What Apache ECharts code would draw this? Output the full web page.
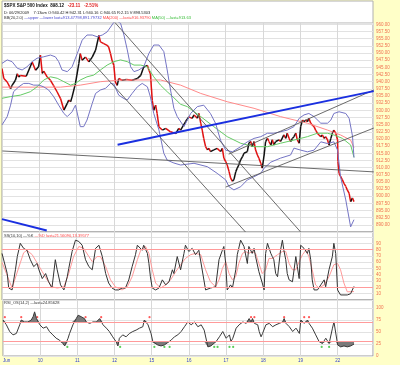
<!DOCTYPE html>
<html><head><meta charset="utf-8">
<script src="https://cdn.jsdelivr.net/npm/echarts@6/dist/echarts.min.js"></script>
<style>html,body{margin:0;padding:0;background:#ffffc8;}#c{width:400px;height:365px;}</style>
</head><body><div id="c"></div>
<script>
const dayLabels = ['Jun','10','11','12','15','16','17','18','19','22'];

const priceT = [0.00,0.05,0.14,0.23,0.27,0.36,0.41,0.45,0.49,0.65,0.81,0.90,0.98,1.03,1.08,1.12,1.21,1.30,1.38,1.48,1.57,1.66,1.75,1.79,1.84,1.88,1.97,2.06,2.10,2.15,2.24,2.33,2.42,2.51,2.60,2.64,2.73,2.82,2.86,2.91,2.95,3.00,3.04,3.09,3.13,3.22,3.34,3.49,3.63,3.72,3.80,3.90,3.94,3.98,4.03,4.07,4.12,4.16,4.21,4.30,4.39,4.52,4.66,4.74,4.79,4.92,5.01,5.10,5.15,5.24,5.28,5.33,5.37,5.41,5.46,5.51,5.55,5.59,5.68,5.77,5.86,5.91,5.95,6.00,6.04,6.09,6.13,6.18,6.22,6.27,6.31,6.35,6.40,6.45,6.49,6.58,6.62,6.67,6.71,6.76,6.80,6.85,6.89,6.94,6.98,7.03,7.07,7.12,7.16,7.21,7.25,7.29,7.34,7.43,7.47,7.56,7.61,7.65,7.70,7.74,7.79,7.83,7.88,7.92,7.97,8.01,8.06,8.10,8.15,8.19,8.23,8.28,8.32,8.37,8.41,8.46,8.50,8.55,8.59,8.64,8.68,8.73,8.77,8.82,8.86,8.90,8.95,9.00,9.01,9.04,9.08,9.13,9.17,9.22,9.26,9.31,9.35,9.40,9.44];
const priceC = [944.6,941.1,939.9,937.6,938.7,940.5,942.8,941.6,942.2,941.9,946.9,944.0,945.2,949.3,942.9,943.7,941.7,940.5,938.7,936.4,934.1,930.1,932.4,933.6,933.0,934.7,939.4,946.3,949.8,947.5,948.6,946.9,948.6,951.0,956.2,953.9,953.3,952.7,952.1,949.8,947.5,945.7,939.9,938.7,941.1,940.5,940.8,940.5,941.1,942.2,945.1,945.7,944.0,942.8,933.5,930.0,931.8,928.9,924.2,923.1,923.7,922.5,921.9,923.7,923.1,926.0,927.7,927.2,928.4,927.2,928.9,925.5,923.1,920.2,917.3,916.2,916.7,915.6,916.2,916.7,915.6,916.7,913.3,912.1,910.9,908.6,906.4,905.2,905.8,908.6,909.8,910.9,912.7,913.8,915.0,915.6,918.5,919.1,917.3,919.1,916.2,914.4,913.3,911.5,909.8,914.4,919.1,920.2,919.1,917.9,919.7,917.9,919.1,919.7,919.1,921.4,920.2,922.0,920.2,919.1,920.2,920.8,922.0,919.7,918.5,924.3,926.6,926.0,926.6,926.0,927.2,925.5,924.9,924.3,923.1,922.0,921.4,920.8,921.4,920.2,920.8,919.7,917.9,920.2,922.0,923.1,922.0,919.7,912.1,908.0,906.9,905.7,904.5,903.4,902.2,901.0,898.1,899.4,898.12];

const bbUpT = [0.00,0.14,0.27,0.41,0.54,0.67,0.81,0.94,1.12,1.30,1.43,1.52,1.61,1.75,1.88,2.02,2.15,2.28,2.42,2.55,2.69,2.82,2.95,3.04,3.18,3.27,3.36,3.45,3.54,3.67,3.80,3.94,4.07,4.21,4.34,4.43,4.52,4.61,4.70,4.88,5.06,5.24,5.41,5.59,5.73,5.86,6.00,6.18,6.40,6.58,6.76,6.94,7.12,7.29,7.47,7.65,7.83,7.97,8.10,8.23,8.37,8.55,8.73,8.82,8.90,9.04,9.22,9.31,9.40,9.44];
const bbUp = [946.4,947.6,947.0,944.7,944.1,945.2,947.0,948.2,948.7,949.3,948.7,947.0,944.1,943.5,945.2,949.9,954.5,956.3,956.3,955.7,956.3,957.4,959.8,961.5,960.4,956.3,951.1,945.2,943.5,944.1,945.2,949.9,952.8,952.8,950.5,944.1,937.1,930.7,927.8,924.3,928.9,931.3,931.8,928.9,925.4,919.6,916.1,915.5,917.3,919.0,920.2,920.8,922.0,922.0,922.5,923.1,924.3,927.2,928.4,928.9,927.8,925.5,925.5,926.6,928.9,929.5,928.9,927.2,921.0,913.5];

const bbLoT = [0.00,0.14,0.23,0.31,0.45,0.58,0.72,0.85,0.99,1.12,1.25,1.39,1.52,1.66,1.75,1.88,1.97,2.10,2.19,2.28,2.42,2.51,2.64,2.78,2.91,3.00,3.13,3.27,3.36,3.49,3.63,3.76,3.90,3.98,4.07,4.21,4.34,4.43,4.61,4.79,5.15,5.51,5.77,6.00,6.09,6.22,6.40,6.58,6.76,6.94,7.03,7.21,7.47,7.74,7.83,8.01,8.19,8.37,8.55,8.73,8.90,9.00,9.08,9.22,9.35,9.44];
const bbLo = [924.9,927.8,931.8,936.5,938.2,939.4,939.4,938.8,938.8,938.2,937.1,934.7,931.8,928.9,927.8,929.5,931.8,924.3,924.3,926.6,932.4,935.9,937.1,937.7,939.4,939.2,935.3,934.1,933.6,935.9,938.2,939.4,938.2,934.7,928.9,923.1,915.0,912.6,911.6,910.9,911.5,910.3,908.0,905.7,903.3,902.2,903.3,905.7,906.8,908.0,909.8,911.9,913.3,914.4,916.8,916.1,915.5,916.1,919.0,918.4,919.0,916.1,906.8,898.7,889.3,891.8];

const ma50T = [0.00,0.23,0.49,0.76,0.94,1.12,1.30,1.48,1.66,1.84,1.97,2.10,2.28,2.46,2.64,2.82,3.00,3.18,3.36,3.54,3.72,3.90,4.07,4.25,4.43,4.61,4.79,4.97,5.33,5.68,6.04,6.40,6.76,7.12,7.47,7.83,8.19,8.46,8.73,8.90,9.13,9.35,9.44];
const ma50 = [934.2,934.8,935.3,936.5,938.2,940.6,941.7,941.2,940.0,938.8,939.4,940.6,941.7,942.3,944.1,945.8,947.0,947.6,947.0,945.8,945.8,945.2,941.7,938.8,936.5,934.4,932.1,931.3,927.8,924.3,920.8,918.5,917.3,917.3,918.5,919.6,920.8,922.0,922.0,921.4,920.2,917.9,913.6];

const ma200T = [0.00,1.57,2.10,2.64,3.18,4.25,4.79,5.33,6.04,6.76,7.47,8.19,8.73,9.08,9.35,9.44];
const ma200 = [938.1,938.1,938.8,940.0,940.6,940.6,938.8,935.9,933.0,930.7,927.8,925.5,923.1,921.4,919.6,916.9];

// trend lines: [t1, price1, t2, price2]
const grayTrends = [
  [3.02, 960.8, 8.01, 887.5],
  [2.32, 948.3, 6.53, 887.5],
  [6.08, 914.7, 9.97, 937.1],
  [6.00, 903.2, 9.97, 923.8],
  [0.01, 915.8, 9.97, 908.5]
];
const blueTrends = [
  [3.10, 918.0, 9.97, 936.7],
  [0.00, 892.0, 1.20, 888.0]
];

const stochKT = [0.00,0.05,0.14,0.18,0.27,0.36,0.41,0.49,0.58,0.67,0.76,0.85,0.94,0.99,1.08,1.17,1.25,1.34,1.43,1.48,1.57,1.66,1.75,1.79,1.88,1.97,2.06,2.15,2.24,2.33,2.42,2.51,2.60,2.64,2.69,2.78,2.86,2.95,3.04,3.13,3.22,3.31,3.40,3.49,3.58,3.63,3.67,3.76,3.80,3.90,3.94,3.98,4.03,4.12,4.21,4.30,4.39,4.48,4.57,4.61,4.70,4.79,4.88,4.92,5.01,5.10,5.19,5.28,5.46,5.59,5.73,5.82,5.91,5.95,6.00,6.04,6.13,6.18,6.27,6.31,6.40,6.49,6.58,6.62,6.67,6.71,6.76,6.80,6.89,6.98,7.03,7.07,7.12,7.21,7.25,7.29,7.34,7.39,7.47,7.52,7.56,7.61,7.65,7.70,7.79,7.88,7.92,7.97,8.01,8.06,8.10,8.19,8.23,8.28,8.32,8.37,8.46,8.55,8.64,8.68,8.77,8.86,8.90,8.95,9.00,9.08,9.26,9.35,9.44];
const stochK = [74,72,42,19,16,48,69,90,82,79,64,53,58,48,34,42,29,19,64,48,24,16,37,50,77,95,93,87,64,53,48,82,87,79,69,42,27,19,16,16,19,19,32,53,72,87,90,79,87,74,58,37,19,16,19,32,24,29,48,42,69,48,74,87,77,82,72,79,16,19,21,64,79,85,58,16,24,19,48,72,95,85,58,85,87,74,82,69,45,27,16,74,90,74,69,64,42,37,79,95,79,64,42,32,29,69,53,34,87,87,82,74,82,64,32,16,16,24,32,21,48,69,90,74,16,8,8,10,21.6];

const stochDT = [0.00,0.27,0.49,0.58,0.67,0.81,0.94,1.08,1.21,1.34,1.48,1.66,1.79,1.92,2.06,2.19,2.33,2.42,2.55,2.64,2.78,2.91,3.04,3.22,3.36,3.49,3.63,3.72,3.85,3.94,4.03,4.12,4.25,4.39,4.52,4.66,4.79,4.92,5.06,5.19,5.33,5.46,5.59,5.73,5.82,5.91,6.00,6.09,6.18,6.27,6.35,6.45,6.54,6.62,6.71,6.80,6.89,6.98,7.07,7.16,7.25,7.39,7.52,7.61,7.70,7.79,7.88,7.97,8.06,8.15,8.23,8.32,8.41,8.50,8.64,8.77,8.90,9.00,9.08,9.17,9.26,9.44];
const stochD = [60,19,59,75,79,72,59,45,32,21,19,21,42,69,85,82,69,61,69,69,53,32,21,16,21,37,64,79,85,74,48,27,19,24,32,45,56,66,72,74,72,48,29,21,32,50,61,42,32,37,58,74,77,74,77,74,58,42,48,66,66,72,77,77,58,48,48,61,72,79,69,48,24,19,24,37,56,58,48,27,13,13.4];

const rsiT = [0.00,0.09,0.18,0.27,0.36,0.45,0.49,0.58,0.67,0.76,0.81,0.85,0.90,0.94,0.99,1.08,1.17,1.25,1.34,1.43,1.52,1.61,1.66,1.75,1.79,1.84,1.88,1.97,2.02,2.10,2.19,2.24,2.33,2.42,2.51,2.60,2.69,2.78,2.86,2.95,3.04,3.09,3.13,3.22,3.31,3.40,3.49,3.58,3.67,3.76,3.80,3.85,3.90,3.98,4.03,4.07,4.16,4.25,4.34,4.43,4.52,4.61,4.70,4.79,4.88,4.97,5.06,5.15,5.24,5.33,5.41,5.51,5.59,5.73,5.82,5.91,6.00,6.09,6.13,6.18,6.27,6.35,6.45,6.54,6.62,6.67,6.71,6.76,6.85,6.89,6.94,6.98,7.07,7.16,7.25,7.34,7.43,7.52,7.56,7.61,7.70,7.79,7.88,7.97,8.01,8.06,8.10,8.19,8.23,8.32,8.41,8.50,8.59,8.68,8.77,8.86,8.90,8.95,9.00,9.08,9.17,9.26,9.35,9.44];
const rsi = [75,65,51,44,47,65,75,71,71,75,82,92,78,82,65,58,61,51,44,37,33,26,21,37,47,44,65,78,85,82,78,71,68,71,71,78,65,58,51,40,30,21,37,44,40,47,51,54,58,61,75,78,65,47,30,26,23,21,23,28,33,40,44,51,61,71,65,71,61,65,54,19,21,30,40,51,37,44,30,37,58,65,71,68,78,71,78,68,65,51,40,47,65,68,61,65,68,71,78,68,61,51,58,47,75,78,68,75,68,58,44,30,26,37,26,58,71,68,23,19,21,19,21,24.9];

const rsiHighT = [0.05,0.49,0.92,2.22,2.64,3.94,6.67,6.76,7.56,8.10,8.23];
const rsiLowT = [1.73,3.15,4.07,4.34,4.48,5.68,5.77,6.09,6.19,8.57,8.77];

const pair = (ts, vs) => ts.map((t, i) => [t, vs[i]]);
const FONT = 'Liberation Sans';
const grid = (top, height) => ({left: 2, right: 27, top: top, height: height, show: true, backgroundColor: '#ffffff', borderColor: '#9a9a9a', borderWidth: 1});
const xAx = (gi, showLabels) => ({
  type: 'value', gridIndex: gi, min: 0, max: 9.95, interval: 1,
  axisLine: {show: false}, axisTick: {show: false},
  splitLine: {show: true, lineStyle: {color: '#d8d8d8', width: 1}},
  axisLabel: {show: showLabels, fontSize: 4.5, fontFamily: FONT, color: '#3344cc', margin: 2, alignMinLabel: 'left',
    formatter: v => (Math.abs(v - Math.round(v)) < 1e-6 && dayLabels[Math.round(v)] !== undefined) ? dayLabels[Math.round(v)] : ''}
});
const yAx = (gi, min, max, interval, fmt) => ({
  type: 'value', gridIndex: gi, position: 'right', min: min, max: max, interval: interval,
  axisLine: {show: false}, axisTick: {show: false},
  splitLine: {show: true, lineStyle: {color: '#e2e2e2', width: 1}},
  axisLabel: {fontSize: 4.5, fontFamily: FONT, color: '#f07050', margin: 3, formatter: fmt}
});

const lineS = (name, data, color, width, xi, yi, extra) => Object.assign({
  type: 'line', name: name, data: data, xAxisIndex: xi, yAxisIndex: yi,
  showSymbol: false, symbol: 'none', smooth: false, silent: true, animation: false,
  lineStyle: {color: color, width: width}
}, extra || {});

const series = [];
series.push(lineS('MA200', pair(ma200T, ma200), '#ff8a8a', 1, 0, 0));
series.push(lineS('MA50', pair(ma50T, ma50), '#66cc66', 1, 0, 0));
series.push(lineS('BBup', pair(bbUpT, bbUp), '#7474c4', 1, 0, 0));
series.push(lineS('BBlo', pair(bbLoT, bbLo), '#7474c4', 1, 0, 0));
grayTrends.forEach((l, i) => series.push(lineS('gt' + i, [[l[0], l[1]], [l[2], l[3]]], '#5a5a5a', 0.9, 0, 0)));
blueTrends.forEach((l, i) => series.push(lineS('bt' + i, [[l[0], l[1]], [l[2], l[3]]], '#1a2fe0', 2, 0, 0)));
series.push({
  type: 'custom', name: 'price', xAxisIndex: 0, yAxisIndex: 0, clip: true, silent: true, animation: false,
  data: priceT.map((t, i) => [t, priceC[i], i > 0 ? priceT[i - 1] : t, i > 0 ? priceC[i - 1] : priceC[i]]),
  renderItem: (params, api) => {
    const a = api.coord([api.value(2), api.value(3)]);
    const b = api.coord([api.value(0), api.value(1)]);
    const up = api.value(1) >= api.value(3);
    return {type: 'line', shape: {x1: a[0], y1: a[1], x2: b[0], y2: b[1]}, style: {stroke: up ? '#111111' : '#e01010', lineWidth: 1.5}};
  },
  markLine: {
    silent: true, symbol: 'none', animation: false,
    lineStyle: {opacity: 0},
    label: {position: 'end', formatter: '898.12', backgroundColor: '#000', color: '#fff', fontSize: 4.8, fontFamily: FONT, fontWeight: 'bold', padding: [1, 2, 0, 2], distance: 1},
    data: [{yAxis: priceC[priceC.length - 1]}]
  }
});
series.push(lineS('D', pair(stochDT, stochD), '#ff9a9a', 1, 1, 1, {
  markLine: {silent: true, symbol: 'none', animation: false, label: {show: false},
    lineStyle: {color: '#ff9a9a', width: 1, type: 'solid'}, data: [{yAxis: 80}, {yAxis: 20}]}
}));
series.push(lineS('K', pair(stochKT, stochK), '#333333', 1, 1, 1));
series.push(lineS('rsiHi', rsiT.map((t, i) => [t, Math.max(rsi[i], 70)]), '#888', 0, 2, 2, {areaStyle: {origin: 70, color: '#7a7a7a', opacity: 1}, lineStyle: {width: 0}}));
series.push(lineS('rsiLo', rsiT.map((t, i) => [t, Math.min(rsi[i], 30)]), '#888', 0, 2, 2, {areaStyle: {origin: 30, color: '#7a7a7a', opacity: 1}, lineStyle: {width: 0}}));
series.push(lineS('rsi', pair(rsiT, rsi), '#3a3a3a', 1, 2, 2, {
  markLine: {silent: true, symbol: 'none', animation: false, label: {show: false},
    lineStyle: {color: '#ff9a9a', width: 1, type: 'solid'}, data: [{yAxis: 70}, {yAxis: 30}]}
}));
series.push({type: 'scatter', xAxisIndex: 2, yAxisIndex: 2, silent: true, animation: false, symbol: 'circle', symbolSize: 2.2,
  itemStyle: {color: '#ff3030'}, data: rsiHighT.map(t => [t, 81])});
series.push({type: 'scatter', xAxisIndex: 2, yAxisIndex: 2, silent: true, animation: false, symbol: 'circle', symbolSize: 2.2,
  itemStyle: {color: '#30c030'}, data: rsiLowT.map(t => [t, 19])});

const chart = echarts.init(document.getElementById('c'), null, {renderer: 'canvas'});
chart.setOption({
  backgroundColor: '#ffffc8',
  animation: false,
  grid: [grid(23, 209), grid(232, 68), grid(300, 56)],
  xAxis: [xAx(0, false), xAx(1, false), xAx(2, true)],
  yAxis: [
    yAx(0, 887.5, 960.5, 2.5, v => (v < 889 || v > 960.2) ? '' : v.toFixed(2)),
    yAx(1, 0, 108, 10, v => (v < 5 || v > 95) ? '' : String(v)),
    yAx(2, 0, 116.7, 25, v => (Math.abs(v / 25 - Math.round(v / 25)) > 1e-6 || v > 101) ? '' : String(v))
  ],
  graphic: [
    {type: 'rect', shape: {x: 2, y: 1, width: 371, height: 22}, style: {fill: '#ffffff', stroke: '#b0b0b0', lineWidth: 1}, silent: true, z: 0},
    {type: 'text', left: 4, top: 3, silent: true, style: {
      text: '{k|$SPX S&P 500 Index}  {k|898.12}   {r|-23.11}   {r|-2.51%}', font: '4.5px ' + FONT,
      rich: {k: {fontSize: 4.5, fontFamily: FONT, fontWeight: 'bold', fill: '#111'}, r: {fontSize: 4.5, fontFamily: FONT, fontWeight: 'bold', fill: '#e02020'}}}},
    {type: 'text', left: 4, top: 10.5, silent: true, style: {
      text: 'D: 06/29/2009    7:13am O:940.42 H:942.31 L:940.16 C:940.65 R:2.15 V:898.5303', font: '4px ' + FONT, fill: '#222'}},
    {type: 'text', left: 4, top: 15.5, silent: true, style: {
      text: '{k|BB(20,2.0)} {b|\u2014upper \u2014lower last=913.47798,891.79732} {r|MA(200) \u2014last=916.93790} {g|MA(50) \u2014last=913.63}', font: '4px ' + FONT,
      rich: {k: {fontSize: 4, fontFamily: FONT, fill: '#333'}, b: {fontSize: 4, fontFamily: FONT, fill: '#4444cc'}, r: {fontSize: 4, fontFamily: FONT, fill: '#ff4040'}, g: {fontSize: 4, fontFamily: FONT, fill: '#33bb33'}}}},
    {type: 'text', left: 4, top: 233.5, silent: true, z: 100, style: {
      text: '{k|SS(10,10) \u2014%K} {r|\u2014%D last=21.56090,13.39577}', font: '4px ' + FONT,
      rich: {k: {fontSize: 4, fontFamily: FONT, fill: '#333'}, r: {fontSize: 4, fontFamily: FONT, fill: '#ff4040'}}}},
    {type: 'text', left: 4, top: 301, silent: true, z: 100, style: {
      text: 'RSI_OS(14,2) \u2014last=24.85628', font: '4px ' + FONT, fill: '#333'}}
  ],
  series: series
});
</script></body></html>
